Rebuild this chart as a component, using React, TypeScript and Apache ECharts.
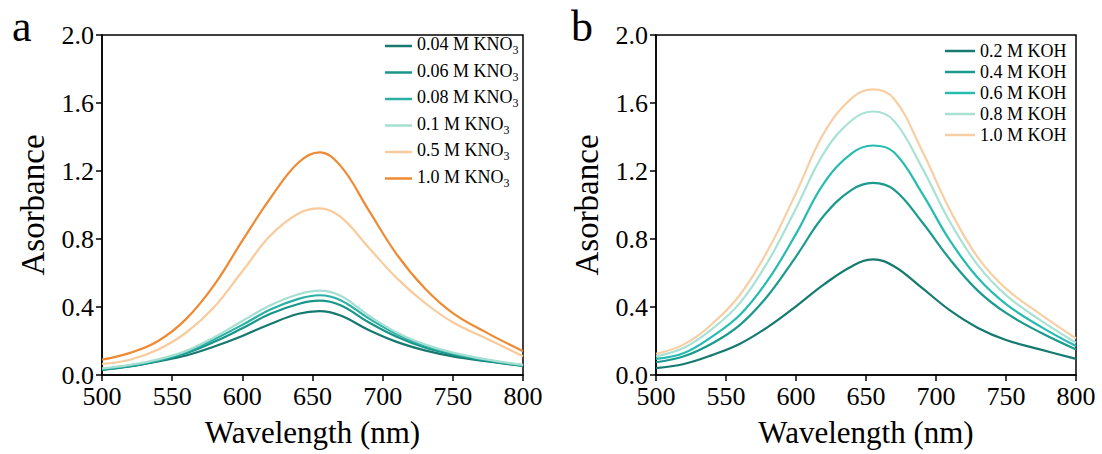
import { useEffect, useRef } from "react";
import * as echarts from "echarts";

const wavelengths = [500, 520, 540, 560, 580, 600, 620, 640, 655, 670, 690, 710, 730, 750, 775, 800];
const xTicks = { min: 500, max: 800, interval: 50 };
const yTicks = { min: 0, max: 2.0, interval: 0.4 };

// Panel a: KNO3
const kno3Names = ["0.04 M KNO3", "0.06 M KNO3", "0.08 M KNO3", "0.1 M KNO3", "0.5 M KNO3", "1.0 M KNO3"];
const kno3_004 = [0.03, 0.05, 0.08, 0.115, 0.168, 0.23, 0.3, 0.36, 0.376, 0.35, 0.265, 0.195, 0.145, 0.11, 0.08, 0.053];
const kno3_006 = [0.032, 0.052, 0.083, 0.128, 0.195, 0.275, 0.36, 0.418, 0.437, 0.41, 0.31, 0.225, 0.162, 0.12, 0.083, 0.055];
const kno3_008 = [0.035, 0.055, 0.087, 0.135, 0.21, 0.295, 0.385, 0.448, 0.469, 0.44, 0.333, 0.24, 0.172, 0.127, 0.087, 0.057];
const kno3_01 = [0.039, 0.06, 0.092, 0.142, 0.222, 0.318, 0.41, 0.475, 0.496, 0.466, 0.35, 0.25, 0.18, 0.132, 0.09, 0.06];
const kno3_05 = [0.065, 0.09, 0.15, 0.25, 0.4, 0.61, 0.82, 0.95, 0.98, 0.93, 0.75, 0.57, 0.425, 0.31, 0.21, 0.11];
const kno3_10 = [0.09, 0.13, 0.2, 0.33, 0.53, 0.79, 1.04, 1.25, 1.31, 1.23, 0.97, 0.71, 0.51, 0.364, 0.245, 0.14];
const kno3Values = [kno3_004, kno3_006, kno3_008, kno3_01, kno3_05, kno3_10];
const kno3Colors = ["#16796F", "#1A958A", "#2AB0A4", "#A6DFD2", "#F9CB9C", "#EF8A33"];

// Panel b: KOH
const kohNames = ["0.2 M KOH", "0.4 M KOH", "0.6 M KOH", "0.8 M KOH", "1.0 M KOH"];
const koh_02 = [0.04, 0.065, 0.117, 0.184, 0.283, 0.404, 0.533, 0.64, 0.68, 0.64, 0.512, 0.38, 0.277, 0.206, 0.149, 0.095];
const koh_04 = [0.075, 0.11, 0.185, 0.295, 0.468, 0.697, 0.938, 1.09, 1.13, 1.09, 0.9, 0.68, 0.495, 0.365, 0.248, 0.15];
const koh_06 = [0.095, 0.13, 0.226, 0.354, 0.559, 0.83, 1.129, 1.305, 1.35, 1.31, 1.07, 0.79, 0.57, 0.417, 0.283, 0.17];
const koh_08 = [0.11, 0.16, 0.27, 0.424, 0.668, 0.98, 1.307, 1.5, 1.55, 1.495, 1.22, 0.9, 0.645, 0.47, 0.32, 0.19];
const koh_10 = [0.125, 0.18, 0.3, 0.472, 0.735, 1.07, 1.424, 1.63, 1.68, 1.625, 1.32, 0.97, 0.69, 0.508, 0.355, 0.215];
const kohValues = [koh_02, koh_04, koh_06, koh_08, koh_10];
const kohColors = ["#157A70", "#1B9A8E", "#27BCB0", "#A8E2D5", "#F8CFA5"];

const xTitle = "Wavelength (nm)";
const yTitle = "Asorbance";
const panelLabels = ["a", "b"];

const FONT = "'Liberation Serif', 'Times New Roman', Times, serif";

function xAxis(gridIndex: number) {
  return {
    type: "value",
    gridIndex,
    ...xTicks,
    name: xTitle,
    nameLocation: "middle",
    nameGap: 42,
    nameTextStyle: { fontFamily: FONT, fontSize: 31, color: "#000" },
    axisLine: { show: true, onZero: false, lineStyle: { color: "#000", width: 1.5 } },
    axisTick: { show: true, inside: false, length: 6, lineStyle: { color: "#000", width: 1.5 } },
    axisLabel: { fontFamily: FONT, fontSize: 26, color: "#000", margin: 8, showMinLabel: true, showMaxLabel: true },
    splitLine: { show: false },
  };
}

function yAxis(gridIndex: number) {
  return {
    type: "value",
    gridIndex,
    ...yTicks,
    name: yTitle,
    nameLocation: "middle",
    nameGap: 53,
    nameTextStyle: { fontFamily: FONT, fontSize: 33, color: "#000" },
    axisLine: { show: true, onZero: false, lineStyle: { color: "#000", width: 1.5 } },
    axisTick: { show: true, inside: false, length: 6, lineStyle: { color: "#000", width: 1.5 } },
    axisLabel: {
      fontFamily: FONT,
      fontSize: 26,
      color: "#000",
      margin: 8,
      formatter: (v: number) => v.toFixed(1),
    },
    splitLine: { show: false },
  };
}

const richText = {
  m: { fontFamily: FONT, fontSize: 18, color: "#000", lineHeight: 20, padding: [0, 0, 4, 0] },
  s: { fontFamily: FONT, fontSize: 12, color: "#000", lineHeight: 12, padding: [10, 0, 2, 0] },
};

export default function App() {
  const ref = useRef<HTMLDivElement>(null);
  useEffect(() => {
    if (!ref.current) return;
    const chart = echarts.init(ref.current, null, { renderer: "svg" });
    const series: any[] = [];
    kno3Names.forEach((name, i) => {
      series.push({
        type: "line",
        name,
        xAxisIndex: 0,
        yAxisIndex: 0,
        data: wavelengths.map((w, j) => [w, kno3Values[i][j]]),
        smooth: 0.4,
        symbol: "none",
        lineStyle: { color: kno3Colors[i], width: 2.2 },
        itemStyle: { color: kno3Colors[i] },
      });
    });
    kohNames.forEach((name, i) => {
      series.push({
        type: "line",
        name,
        xAxisIndex: 1,
        yAxisIndex: 1,
        data: wavelengths.map((w, j) => [w, kohValues[i][j]]),
        smooth: 0.4,
        symbol: "none",
        lineStyle: { color: kohColors[i], width: 2.2 },
        itemStyle: { color: kohColors[i] },
      });
    });
    const option: any = {
      animation: false,
      backgroundColor: "#fff",
      grid: [
        { left: 102, top: 35, width: 421, height: 340, show: true, borderColor: "#000", borderWidth: 1.5, backgroundColor: "transparent" },
        { left: 656, top: 35, width: 420, height: 340, show: true, borderColor: "#000", borderWidth: 1.5, backgroundColor: "transparent" },
      ],
      xAxis: [xAxis(0), xAxis(1)],
      yAxis: [yAxis(0), yAxis(1)],
      legend: [
        {
          data: kno3Names,
          orient: "vertical",
          left: 380,
          top: 29,
          icon: "rect",
          itemWidth: 27,
          itemHeight: 2.5,
          itemGap: 2.5,
          selectedMode: false,
          formatter: (name: string) => `{m|${name.slice(0, -1)}}{s|${name.slice(-1)}}`,
          textStyle: { fontFamily: FONT, fontSize: 18, color: "#000", rich: richText },
        },
        {
          data: kohNames,
          orient: "vertical",
          left: 940,
          top: 36,
          icon: "rect",
          itemWidth: 30,
          itemHeight: 2.5,
          itemGap: 1,
          selectedMode: false,
          textStyle: { fontFamily: FONT, fontSize: 18, color: "#000", lineHeight: 20 },
        },
      ],
      graphic: [
        { type: "text", left: 12, top: 4, style: { text: panelLabels[0], font: `44px ${FONT}`, fill: "#000" } },
        { type: "text", left: 571, top: 4, style: { text: panelLabels[1], font: `44px ${FONT}`, fill: "#000" } },
      ],
      series,
    };
    chart.setOption(option);
    return () => chart.dispose();
  }, []);
  return (
    <div
      ref={ref}
      style={{ position: "fixed", left: 0, top: 0, width: 1102, height: 454, background: "#fff" }}
    />
  );
}
